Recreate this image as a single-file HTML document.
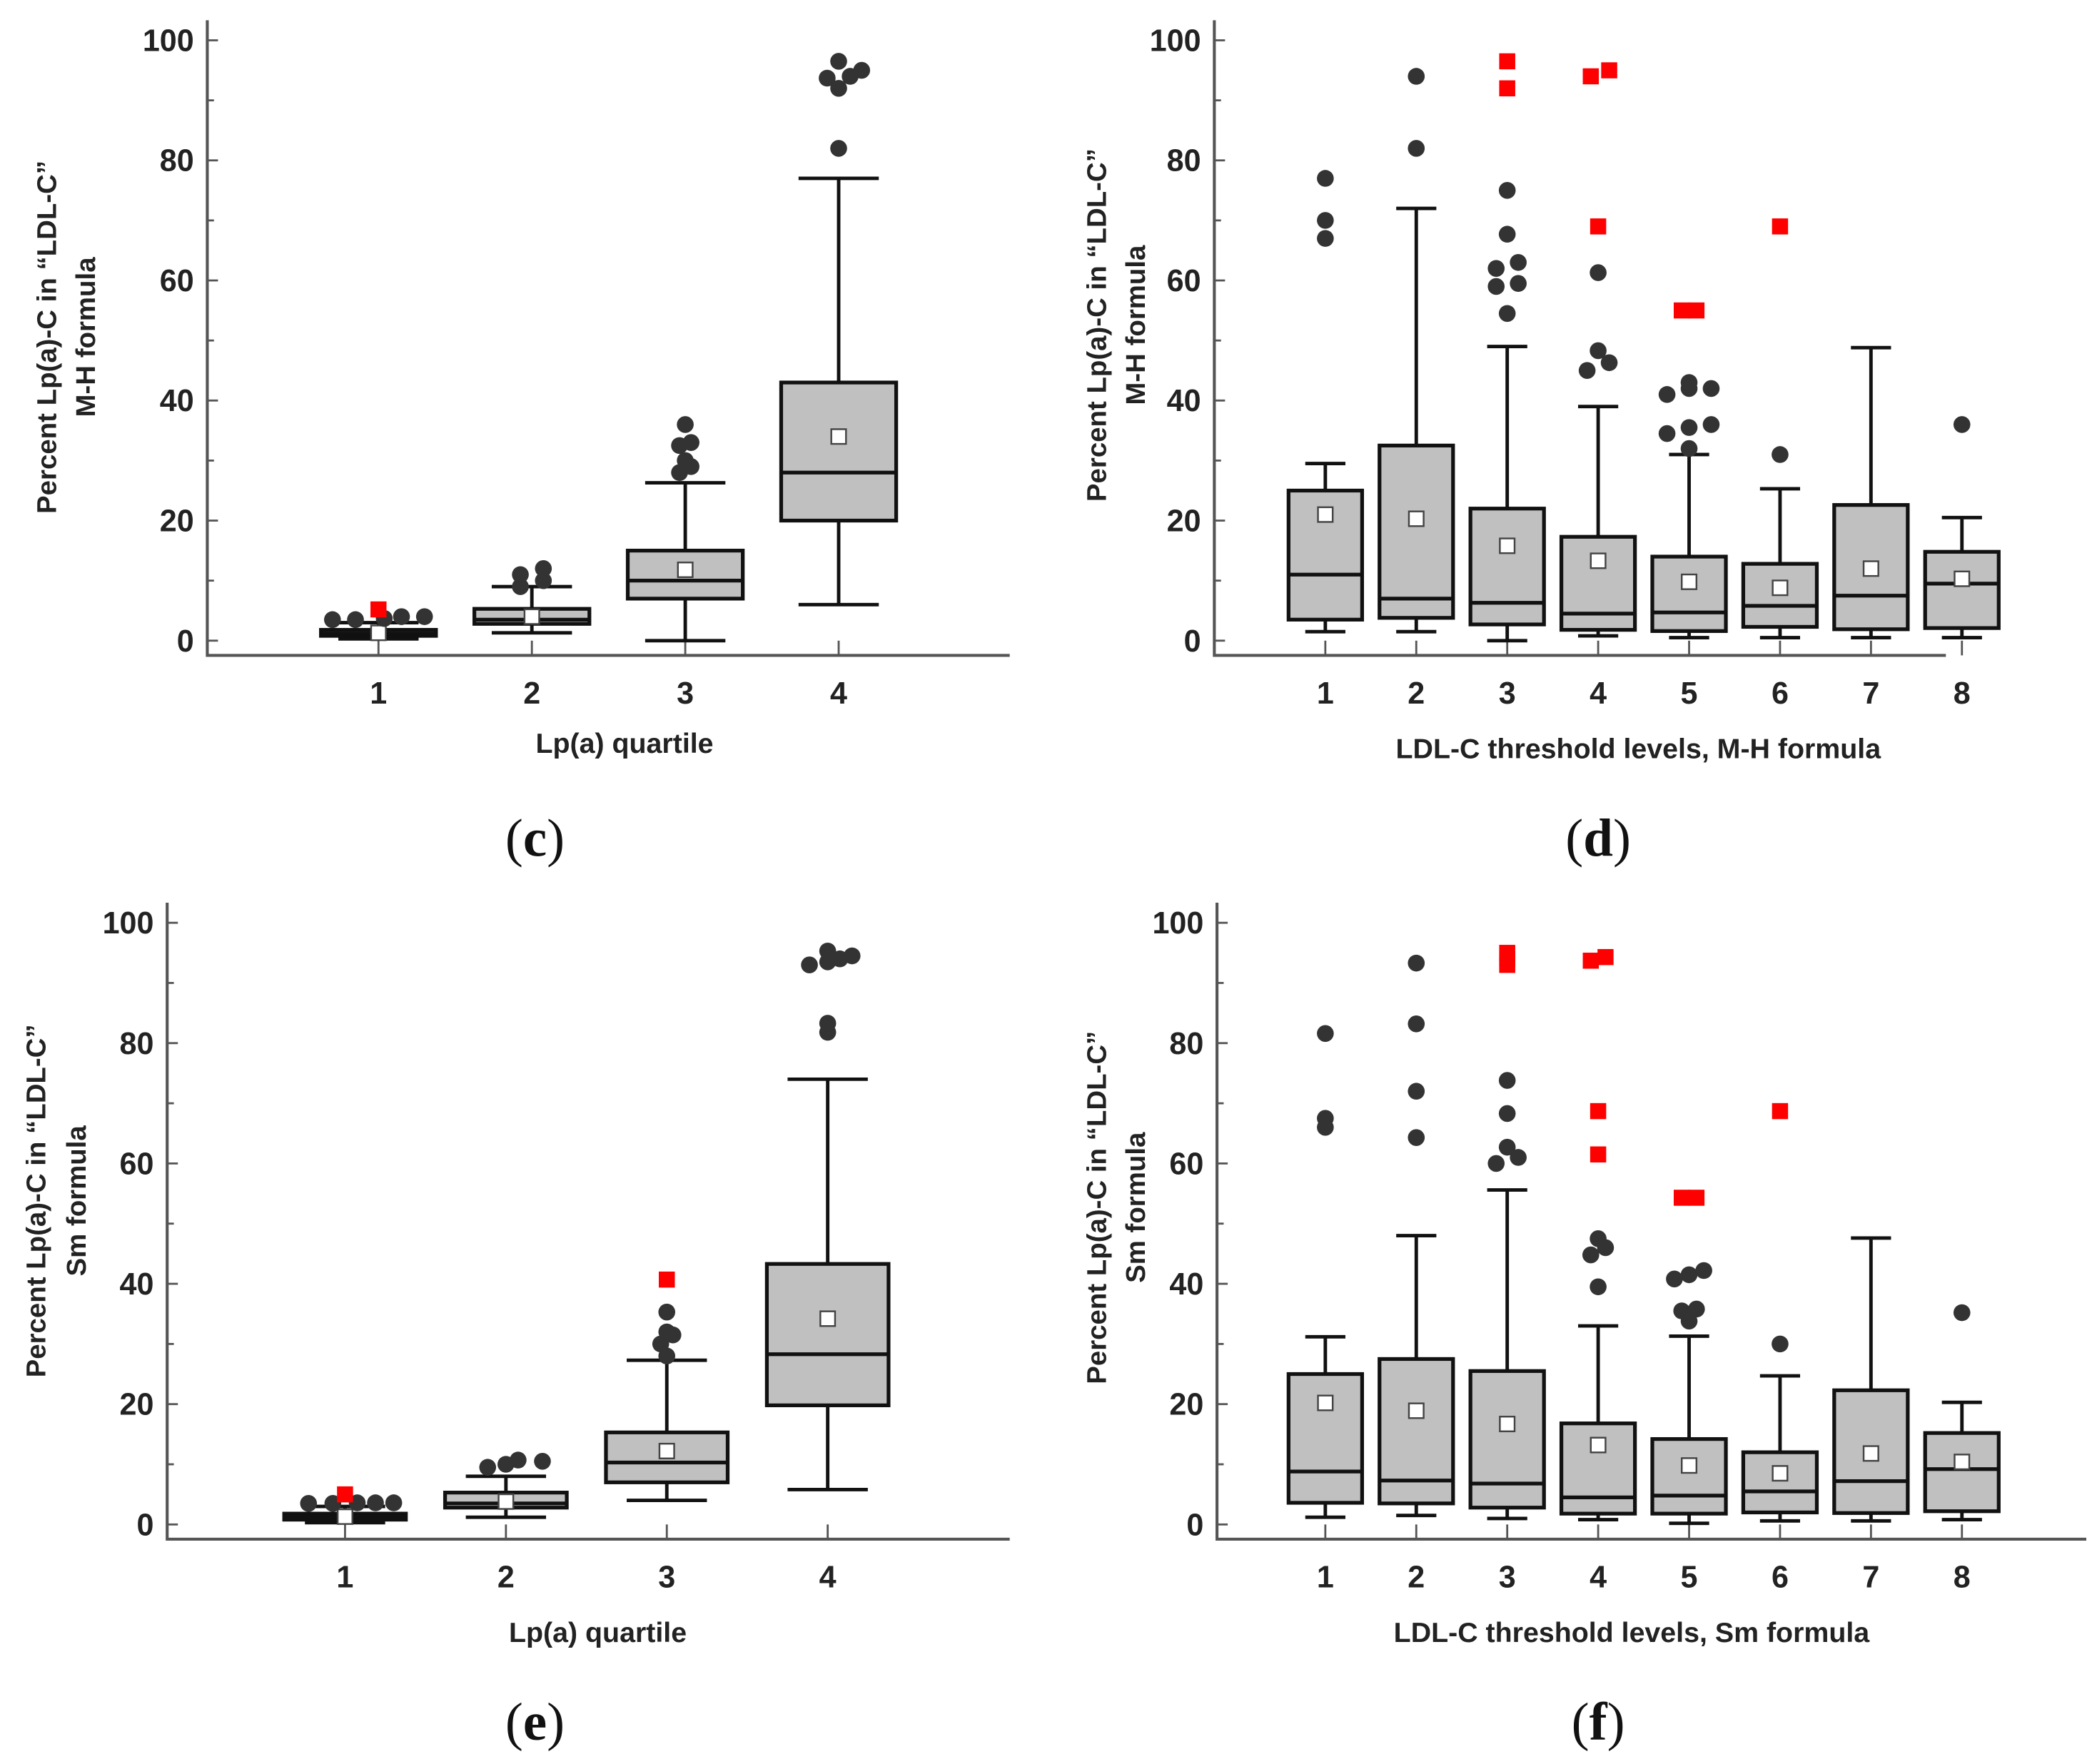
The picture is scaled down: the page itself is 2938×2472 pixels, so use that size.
<!DOCTYPE html>
<html><head><meta charset="utf-8"><style>
html,body{margin:0;padding:0;background:#fff}
svg{display:block}
.t{font-family:"Liberation Sans",sans-serif;font-weight:bold;fill:#222}
.p{font-family:"Liberation Serif",serif;fill:#111}
</style></head><body>
<svg id="fig" width="2938" height="2472" viewBox="0 0 1568 1319" xmlns="http://www.w3.org/2000/svg">
<rect width="1568" height="1319" fill="#fff"/>
</svg>
<script>
// ---- data arrays: [low whisker, q1, median, q3, high whisker, mean] ----
const cStats=[[0.3,0.8,1.2,1.8,3,1.3],[1.3,2.8,3.5,5.3,9,4],[0,7,10,15,26.3,11.8],[6,20,28,43,77,34]];
const cDots=[[0,3.5,-0.4],[0,3.5,-0.2],[0,3.7,0.05],[0,4,0.2],[0,4,0.4],[1,9,-0.1],[1,10,0.1],[1,11,-0.1],[1,12,0.1],[2,28,-0.05],[2,29,0.05],[2,30,0],[2,32.5,-0.05],[2,33,0.05],[2,36,0],[3,82,0],[3,92,0],[3,93.7,-0.1],[3,94,0.1],[3,95,0.2],[3,96.5,0]];
const cRed=[[0,5.2,0]];
const dStats=[[1.5,3.5,11,25,29.5,21],[1.5,3.8,7,32.5,72,20.3],[0,2.7,6.3,22,49,15.8],[0.8,1.8,4.5,17.3,39,13.3],[0.5,1.6,4.7,14,31,9.8],[0.5,2.3,5.8,12.8,25.3,8.8],[0.5,1.9,7.5,22.6,48.8,12],[0.5,2.1,9.5,14.8,20.5,10.3]];
const dDots=[[0,67,0],[0,70,0],[0,77,0],[1,82,0],[1,94,0],[2,54.5,0],[2,59,-0.15],[2,59.5,0.15],[2,62,-0.15],[2,63,0.15],[2,67.7,0],[2,75,0],[3,45,-0.15],[3,46.3,0.15],[3,48.3,0],[3,61.3,0],[4,32,0],[4,34.5,-0.3],[4,35.5,0],[4,36,0.3],[4,41,-0.3],[4,42,0],[4,43,0],[4,42,0.3],[5,31,0],[7,36,0]];
const dRed=[[2,92,0],[2,96.5,0],[3,69,0],[3,94,-0.1],[3,95,0.15],[4,55,-0.1],[4,55,0.1],[5,69,0]];
const eStats=[[0.3,0.8,1.3,1.8,3,1.3],[1.2,2.8,3.5,5.3,8,3.8],[4,7,10.3,15.3,27.3,12.2],[5.8,19.8,28.3,43.3,74,34.2]];
const eDots=[[0,3.5,-0.3],[0,3.5,-0.1],[0,3.6,0.1],[0,3.6,0.25],[0,3.6,0.4],[1,9.5,-0.15],[1,10,0],[1,10.7,0.1],[1,10.5,0.3],[2,28,0],[2,30,-0.05],[2,31.5,0.05],[2,32,0],[2,35.3,0],[3,81.8,0],[3,83.3,0],[3,93,-0.15],[3,93.5,0],[3,94,0.1],[3,95.3,0],[3,94.5,0.2]];
const eRed=[[0,5,0],[2,40.7,0]];
const fStats=[[1.2,3.6,8.8,25,31.2,20.2],[1.5,3.5,7.3,27.5,48,18.9],[1,2.8,6.8,25.5,55.6,16.7],[0.8,1.8,4.5,16.8,33,13.2],[0.2,1.8,4.8,14.2,31.3,9.8],[0.6,2,5.5,12,24.7,8.5],[0.6,1.9,7.2,22.3,47.6,11.8],[0.8,2.2,9.2,15.2,20.3,10.4]];
const fDots=[[0,66,0],[0,67.5,0],[0,81.6,0],[1,64.3,0],[1,72,0],[1,83.2,0],[1,93.3,0],[2,60,-0.15],[2,61,0.15],[2,62.7,0],[2,68.3,0],[2,73.8,0],[3,39.5,0],[3,44.8,-0.1],[3,46,0.1],[3,47.5,0],[4,33.8,0],[4,35.5,-0.1],[4,35.8,0.1],[4,40.8,-0.2],[4,41.5,0],[4,42.2,0.2],[5,30,0],[7,35.2,0]];
const fRed=[[2,93,0],[2,94,0],[2,95,0],[3,61.5,0],[3,68.7,0],[3,93.7,-0.1],[3,94.3,0.1],[4,54.3,-0.1],[4,54.3,0.1],[5,68.7,0]];
const yTicks=[0,20,40,60,80,100];
const quartLabels=['1','2','3','4'];
const levelLabels=['1','2','3','4','5','6','7','8'];

const svg=document.getElementById('fig');
const NS='http://www.w3.org/2000/svg';
function mk(tag,attrs,parent){const e=document.createElementNS(NS,tag);for(const k in attrs)e.setAttribute(k,attrs[k]);(parent||svg).appendChild(e);return e;}

function panel(cfg){
  const g=mk('g',{});
  
  
  const y=v=>cfg.y0+(cfg.y100-cfg.y0)*v/100;
  const x=i=>cfg.xs[0]+(cfg.xs[1]-cfg.xs[0])*i;
  const ax=mk('path',{d:`M${cfg.ax} ${cfg.y100-15}V${cfg.axY}H${cfg.axEnd}`,stroke:'#555','stroke-width':2.2,fill:'none'},g);
  
  
  for(let v=0;v<=100;v+=10){mk('line',{x1:cfg.ax,x2:cfg.ax+(v%20===0?8:5),y1:y(v),y2:y(v),stroke:'#555','stroke-width':1.5},g);}
  yTicks.forEach(v=>{const t=mk('text',{x:cfg.ax-10,y:y(v)+8,'text-anchor':'end','font-size':23,class:'t'},g);t.textContent=v;
    
    });
  cfg.labels.forEach((l,i)=>{mk('line',{x1:x(i),x2:x(i),y1:cfg.axY,y2:cfg.axY-11,stroke:'#555','stroke-width':1.5},g);
    const t=mk('text',{x:x(i),y:cfg.axY+36,'text-anchor':'middle','font-size':23,class:'t'},g);t.textContent=l;
    
    });
  cfg.stats.forEach((s,i)=>{
    const cx=x(i),bw=cfg.bw,cw=cfg.cw;
    const b=mk('g',{},g);
    
    
    mk('line',{x1:cx,x2:cx,y1:y(s[0]),y2:y(s[4]),stroke:'#111','stroke-width':2.6},b);
    mk('line',{x1:cx-cw/2,x2:cx+cw/2,y1:y(s[0]),y2:y(s[0]),stroke:'#111','stroke-width':2.6},b);
    mk('line',{x1:cx-cw/2,x2:cx+cw/2,y1:y(s[4]),y2:y(s[4]),stroke:'#111','stroke-width':2.6},b);
    mk('rect',{x:cx-bw/2,y:y(s[3]),width:bw,height:Math.max(y(s[1])-y(s[3]),2),fill:'#c0c0c0',stroke:'#111','stroke-width':2.8},b);
    mk('line',{x1:cx-bw/2,x2:cx+bw/2,y1:y(s[2]),y2:y(s[2]),stroke:'#111','stroke-width':2.8},b);
    mk('rect',{x:cx-5.5,y:y(s[5])-5.5,width:11,height:11,fill:'#fff',stroke:'#444','stroke-width':1.3},b);
  });
  cfg.dots.forEach(d=>{const c=mk('circle',{cx:x(d[0])+d[2]*cfg.bw,cy:y(d[1]),r:6.3,fill:'#333'},g);
    
    });
  cfg.red.forEach(d=>{const r=mk('rect',{x:x(d[0])+d[2]*cfg.bw-6,y:y(d[1])-6,width:12,height:12,fill:'#f00'},g);
    
    });
  const xl=mk('text',{x:cfg.xlx,y:cfg.xly,'text-anchor':'middle','font-size':21,class:'t'},g);xl.textContent=cfg.xlabel;
  
  
  cfg.ylab.forEach((l,k)=>{const t=mk('text',{transform:`translate(${cfg.ylx[k]+7},${cfg.yly}) rotate(-90)`,'text-anchor':'middle','font-size':20.5,class:'t'},g);t.textContent=l;
    
    });
  const p=mk('text',{x:cfg.px,y:cfg.py,'text-anchor':'middle','font-size':40,class:'p'},g);
  p.innerHTML='('+'<tspan font-weight="bold">'+cfg.letter+'</tspan>)';
  
  
}
panel({name:'panel-c',y0:479,y100:30,ax:155,axY:490,axEnd:755,xs:[283,397.7],bw:86,cw:60,labels:quartLabels,stats:cStats,dots:cDots,red:cRed,
  xlabel:'Lp(a) quartile',xlx:467,xly:563,ylab:['Percent Lp(a)-C in \u201cLDL-C\u201d','M-H formula'],ylx:[35,64],yly:252,letter:'c',px:400,py:640});
panel({name:'panel-d',y0:479,y100:30,ax:908,axY:490,axEnd:1455,xs:[991,1059],bw:55,cw:30,labels:levelLabels,stats:dStats,dots:dDots,red:dRed,
  xlabel:'LDL-C threshold levels, M-H formula',xlx:1225,xly:567,ylab:['Percent Lp(a)-C in \u201cLDL-C\u201d','M-H formula'],ylx:[820,849],yly:243,letter:'d',px:1195,py:640});
panel({name:'panel-e',y0:1140,y100:690,ax:125,axY:1151,axEnd:755,xs:[258,378.3],bw:91,cw:60,labels:quartLabels,stats:eStats,dots:eDots,red:eRed,
  xlabel:'Lp(a) quartile',xlx:447,xly:1228,ylab:['Percent Lp(a)-C in \u201cLDL-C\u201d','Sm formula'],ylx:[27,57],yly:898,letter:'e',px:400,py:1301});
panel({name:'panel-f',y0:1140,y100:690,ax:910,axY:1151,axEnd:1560,xs:[991,1059],bw:55,cw:30,labels:levelLabels,stats:fStats,dots:fDots,red:fRed,
  xlabel:'LDL-C threshold levels, Sm formula',xlx:1220,xly:1228,ylab:['Percent Lp(a)-C in \u201cLDL-C\u201d','Sm formula'],ylx:[820,849],yly:903,letter:'f',px:1195,py:1301});
</script>
</body></html>
